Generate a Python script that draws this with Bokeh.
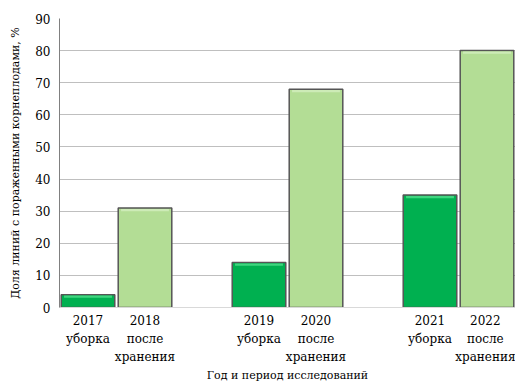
from bokeh.plotting import figure
from bokeh.models import FixedTicker, Range1d
from bokeh.embed import file_html
from bokeh.resources import INLINE

labels = ["2017\nуборка", "2018\nпосле\nхранения", "2019\nуборка", "2020\nпосле\nхранения",
          "2021\nуборка", "2022\nпосле\nхранения"]
positions = [0.5, 1.5, 3.5, 4.5, 6.5, 7.5]
values = [4, 31, 14, 68, 35, 80]
colors = ["#00B050", "#B3DD95", "#00B050", "#B3DD95", "#00B050", "#B3DD95"]
highlights = ["#3FD67F", "#CDEBB7", "#3FD67F", "#CDEBB7", "#3FD67F", "#CDEBB7"]

FONT = "DejaVu Serif"

p = figure(width=515, height=385, output_backend="svg", toolbar_location=None,
           x_range=Range1d(0, 8), y_range=Range1d(0, 90),
           min_border_left=59, min_border_right=0, min_border_top=18, min_border_bottom=78)
p.outline_line_color = None

w = 0.94
left = [x - w / 2 for x in positions]
right = [x + w / 2 for x in positions]
p.quad(left=left, right=right, bottom=0, top=values, fill_color=colors,
       line_color="#555555", line_width=1.5)
# top bevel highlight
p.quad(left=[l + 0.05 for l in left], right=[r - 0.05 for r in right],
       bottom=[v - 1.0 if v > 2 else v * 0.5 for v in values], top=[v - 0.3 for v in values],
       fill_color=highlights, line_color=None)

p.xaxis.ticker = FixedTicker(ticks=positions)
p.xaxis.major_label_overrides = {pos: lab for pos, lab in zip(positions, labels)}
p.yaxis.ticker = FixedTicker(ticks=list(range(0, 91, 10)))

for ax in (p.xaxis, p.yaxis):
    ax.major_tick_line_color = None
    ax.minor_tick_line_color = None
    ax.major_tick_out = 0
    ax.major_tick_in = 0
    ax.major_label_text_font = FONT
    ax.major_label_text_font_size = "12px"
    ax.major_label_text_line_height = 1.3
    ax.major_label_text_color = "#000000"
    ax.axis_label_text_font = FONT
    ax.axis_label_text_font_style = "normal"
    ax.axis_label_text_font_size = "11px"
    ax.axis_label_text_color = "#000000"

p.xaxis.axis_line_color = "#D9D9D9"
p.yaxis.axis_line_color = "#808080"
p.xaxis.axis_label = "Год и период исследований"
p.yaxis.axis_label = "Доля линий с пораженными корнеплодами, %"
p.xaxis.major_label_standoff = 6
p.yaxis.major_label_standoff = 9
p.xaxis.axis_label_standoff = 2
p.yaxis.axis_label_standoff = 10

p.xgrid.grid_line_color = None
p.ygrid.grid_line_color = "#BFBFBF"

open("out.html", "w").write(file_html(p, INLINE))
